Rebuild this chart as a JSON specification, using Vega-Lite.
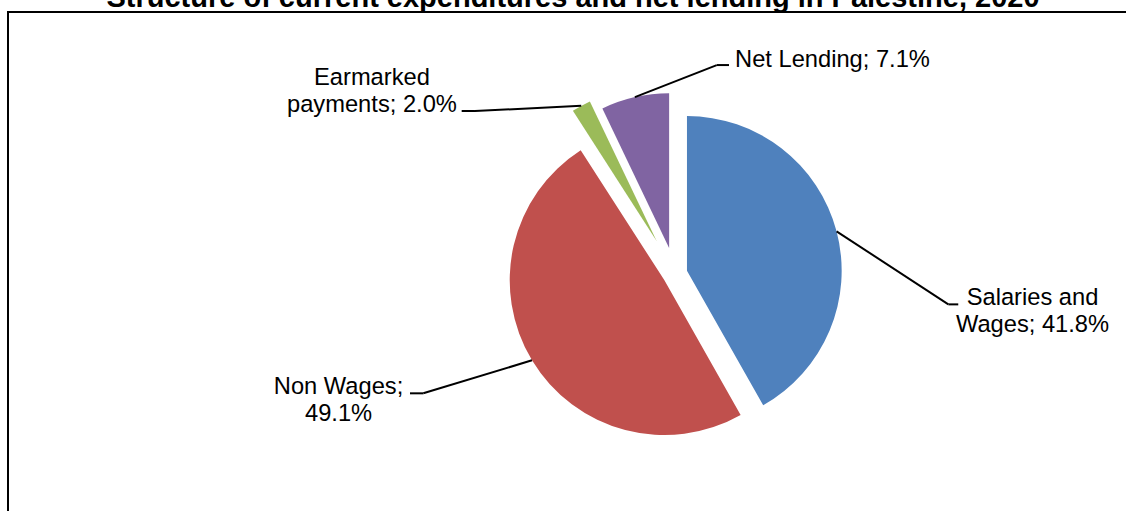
{
  "$schema": "https://vega.github.io/schema/vega-lite/v6.json",
  "autosize": "none",
  "padding": {"left": 8, "top": 12, "right": 0, "bottom": 0},
  "width": 1130,
  "height": 510,
  "title": {
    "text": "Structure of current expenditures and net lending in Palestine, 2020",
    "font": "Liberation Sans",
    "fontSize": 29,
    "fontWeight": "bold",
    "color": "#000000",
    "anchor": "middle",
    "offset": -1
  },
  "config": {
    "view": {"stroke": "#000000", "strokeWidth": 2},
    "text": {"font": "Liberation Sans"}
  },
  "data": {
    "values": [
      {"category": "Salaries and Wages", "share": 41.8, "label": "Salaries and\nWages; 41.8%"},
      {"category": "Non Wages", "share": 49.1, "label": "Non Wages;\n49.1%"},
      {"category": "Earmarked payments", "share": 2.0, "label": "Earmarked\npayments; 2.0%"},
      {"category": "Net Lending", "share": 7.1, "label": "Net Lending; 7.1%"}
    ]
  },
  "transform": [
    {"window": [{"op": "sum", "field": "share", "as": "s1"}, {"op": "row_number", "as": "idx"}], "frame": [null, 0]},
    {"joinaggregate": [{"op": "sum", "field": "share", "as": "total"}]},
    {"calculate": "datum.s1 - datum.share", "as": "s0"},
    {"calculate": "PI * (datum.s0 + datum.s1) / datum.total", "as": "mid"},
    {"calculate": "[0.08, 0.08, 0.244, 0.172][datum.idx - 1]", "as": "explode"},
    {"calculate": "datum.explode * sin(datum.mid)", "as": "cx"},
    {"calculate": "-datum.explode * cos(datum.mid)", "as": "cy"},
    {"calculate": "datum.cx + sin(datum.mid)", "as": "p0x"},
    {"calculate": "datum.cy - cos(datum.mid)", "as": "p0y"},
    {"calculate": "[1.767, -1.627, -1.293, 0.270][datum.idx - 1]", "as": "p1x"},
    {"calculate": "[0.197, 0.772, -1.053, -1.350][datum.idx - 1]", "as": "p1y"},
    {"calculate": "[1.831, -1.713, -1.379, 0.349][datum.idx - 1]", "as": "p2x"},
    {"calculate": "datum.p1y", "as": "p2y"},
    {"calculate": "[2.311, -2.175, -1.959, 1.018][datum.idx - 1]", "as": "tx"},
    {"calculate": "[0.201, 0.778, -1.221, -1.339][datum.idx - 1]", "as": "ty"}
  ],
  "layer": [
    {
      "mark": {"type": "arc", "radius": 154.7},
      "encoding": {
        "x": {"field": "cx", "type": "quantitative", "axis": null, "scale": {"domain": [-4.3116, 2.9929], "zero": false, "nice": false}},
        "y": {"field": "cy", "type": "quantitative", "axis": null, "scale": {"domain": [-1.693, 1.6038], "zero": false, "nice": false, "reverse": true}},
        "theta": {"field": "s0", "type": "quantitative", "stack": null, "scale": {"domain": [0, 100]}},
        "theta2": {"field": "s1"},
        "color": {
          "field": "category",
          "type": "nominal",
          "legend": null,
          "scale": {
            "domain": ["Salaries and Wages", "Non Wages", "Earmarked payments", "Net Lending"],
            "range": ["#4F81BD", "#C0504D", "#9BBB59", "#8064A2"]
          }
        }
      }
    },
    {
      "mark": {"type": "rule", "color": "#000000", "strokeWidth": 2},
      "encoding": {
        "x": {"field": "p0x", "type": "quantitative"},
        "y": {"field": "p0y", "type": "quantitative"},
        "x2": {"field": "p1x"},
        "y2": {"field": "p1y"}
      }
    },
    {
      "mark": {"type": "rule", "color": "#000000", "strokeWidth": 2},
      "encoding": {
        "x": {"field": "p1x", "type": "quantitative"},
        "y": {"field": "p1y", "type": "quantitative"},
        "x2": {"field": "p2x"},
        "y2": {"field": "p2y"}
      }
    },
    {
      "mark": {"type": "text", "align": "center", "baseline": "alphabetic", "fontSize": 23.7, "lineBreak": "\n", "lineHeight": 27, "color": "#000000"},
      "encoding": {
        "x": {"field": "tx", "type": "quantitative"},
        "y": {"field": "ty", "type": "quantitative"},
        "text": {"field": "label"}
      }
    }
  ]
}
